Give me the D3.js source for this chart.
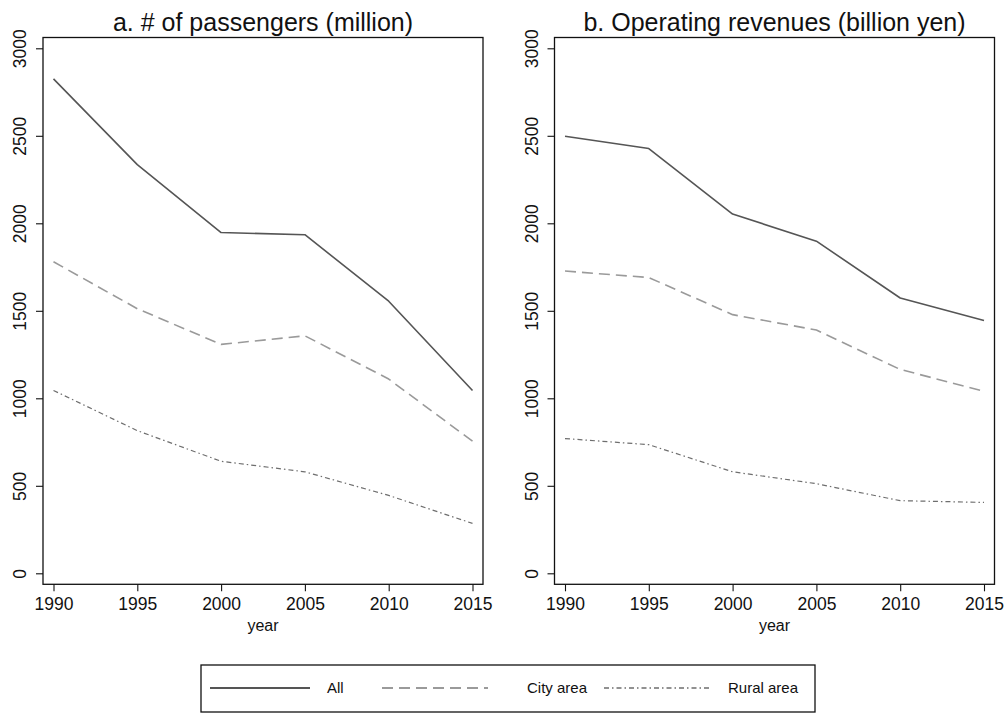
<!DOCTYPE html>
<html>
<head>
<meta charset="utf-8">
<script src="https://cdn.jsdelivr.net/npm/d3@7"></script>
<style>
  html, body { margin: 0; padding: 0; background: #fff; }
  svg { display: block; font-family: "Liberation Sans", Arial, sans-serif; }
</style>
</head>
<body>
<svg id="chart" width="1008" height="713"></svg>
<script>
// Years on the x axis
const years = [1990, 1995, 2000, 2005, 2010, 2015];
const yTicks = [0, 500, 1000, 1500, 2000, 2500, 3000];

// Panel a: number of passengers (million)
const passAll   = [2825, 2335, 1947, 1935, 1555, 1045];
const passCity  = [1780, 1512, 1308, 1357, 1110, 755];
const passRural = [1045, 815, 640, 580, 445, 285];

// Panel b: operating revenues (billion yen)
const revAll   = [2497, 2427, 2053, 1898, 1573, 1445];
const revCity  = [1727, 1690, 1478, 1390, 1165, 1040];
const revRural = [770, 735, 580, 512, 415, 405];

const seriesNames = ["All", "City area", "Rural area"];
const panelTitles = ["a. # of passengers (million)", "b. Operating revenues (billion yen)"];

const styles = {
  "All":        { color: "#555555", width: 1.6, dash: null },
  "City area":  { color: "#9a9a9a", width: 1.6, dash: "11,6" },
  "Rural area": { color: "#6e6e6e", width: 1.2, dash: "5,3,1.5,3" }
};

const svg = d3.select("#chart");

const panels = [
  { title: panelTitles[0], left: 43, right: 483, series: [passAll, passCity, passRural] },
  { title: panelTitles[1], left: 554.5, right: 994.5, series: [revAll, revCity, revRural] }
];

const frameTop = 37.5, frameBottom = 584.3;

panels.forEach(p => {
  const g = svg.append("g");
  const x = d3.scaleLinear().domain([1990, 2015]).range([p.left + 10.5, p.right - 10.5]);
  const y = d3.scaleLinear().domain([0, 3000]).range([573.3, 48.3]);

  // frame
  g.append("rect")
    .attr("x", p.left).attr("y", frameTop)
    .attr("width", p.right - p.left).attr("height", frameBottom - frameTop)
    .attr("fill", "none").attr("stroke", "#111").attr("stroke-width", 1.3);

  // x axis
  const xAxis = d3.axisBottom(x).tickValues(years).tickFormat(d3.format("d")).tickSize(7).tickSizeOuter(0);
  const gx = g.append("g").attr("transform", `translate(0,${frameBottom})`).call(xAxis);
  gx.select(".domain").remove();
  gx.selectAll(".tick line").attr("stroke", "#111").attr("stroke-width", 1.1);
  gx.selectAll(".tick text").attr("font-size", 17.5).attr("fill", "#111")
    .attr("font-family", "Liberation Sans, Arial, sans-serif").attr("dy", null).attr("y", 26);

  // y axis with rotated labels
  const yAxis = d3.axisLeft(y).tickValues(yTicks).tickFormat(d3.format("d")).tickSize(7).tickSizeOuter(0);
  const gy = g.append("g").attr("transform", `translate(${p.left},0)`).call(yAxis);
  gy.select(".domain").remove();
  gy.selectAll(".tick line").attr("stroke", "#111").attr("stroke-width", 1.1);
  gy.selectAll(".tick text")
    .attr("font-size", 17.5).attr("fill", "#111")
    .attr("font-family", "Liberation Sans, Arial, sans-serif")
    .attr("x", null).attr("dy", null)
    .attr("text-anchor", "middle")
    .attr("transform", "translate(-17,0) rotate(-90)");

  // title
  g.append("text")
    .attr("x", (p.left + p.right) / 2).attr("y", 31)
    .attr("text-anchor", "middle").attr("font-size", 25).attr("fill", "#111")
    .text(p.title);

  // x axis label
  g.append("text")
    .attr("x", (p.left + p.right) / 2).attr("y", 631)
    .attr("text-anchor", "middle").attr("font-size", 16).attr("fill", "#111")
    .text("year");

  // series lines
  const line = d3.line().x((d, i) => x(years[i])).y(d => y(d));
  p.series.forEach((vals, k) => {
    const s = styles[seriesNames[k]];
    g.append("path")
      .datum(vals)
      .attr("d", line)
      .attr("fill", "none")
      .attr("stroke", s.color)
      .attr("stroke-width", s.width)
      .attr("stroke-dasharray", s.dash)
      .attr("stroke-linejoin", "round");
  });
});

// legend
const leg = svg.append("g");
leg.append("rect")
  .attr("x", 201).attr("y", 665).attr("width", 614).attr("height", 47)
  .attr("fill", "#fff").attr("stroke", "#111").attr("stroke-width", 1.3);

const legItems = [
  { name: "All",        x0: 210, x1: 310, tx: 327 },
  { name: "City area",  x0: 382, x1: 488, tx: 527 },
  { name: "Rural area", x0: 604, x1: 711, tx: 728 }
];
legItems.forEach(it => {
  const s = styles[it.name];
  leg.append("line")
    .attr("x1", it.x0).attr("x2", it.x1).attr("y1", 688).attr("y2", 688)
    .attr("stroke", s.color).attr("stroke-width", s.width + 0.4)
    .attr("stroke-dasharray", s.dash);
  leg.append("text")
    .attr("x", it.tx).attr("y", 693)
    .attr("font-size", 15).attr("fill", "#111")
    .text(it.name);
});
</script>
</body>
</html>
